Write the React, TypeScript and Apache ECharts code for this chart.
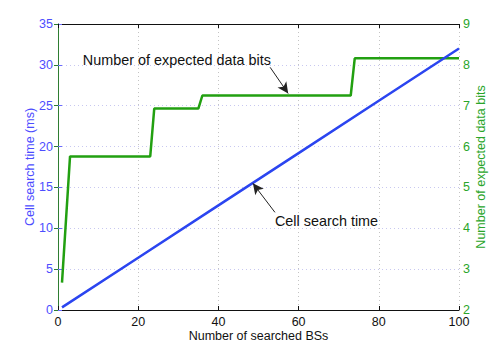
import React, { useEffect, useRef } from "react";
import * as echarts from "echarts";

const xTicks = { min: 0, max: 100, interval: 20 };
const leftTicks = { min: 0, max: 35, interval: 5 };
const rightTicks = { min: 2, max: 9, interval: 1 };

const blueX = [1, 20, 40, 60, 80, 100];
const blueY = [0.32, 6.4, 12.8, 19.2, 25.6, 32];

const greenX = [1, 3, 23, 24, 35, 36, 73, 74, 100];
const greenY = [2.67, 5.76, 5.76, 6.93, 6.93, 7.25, 7.25, 8.16, 8.16];

const bitsArrow = [[52.9, 7.94], [57.4, 7.3]];
const timeArrow = [[54.1, 11.95], [48.6, 15.5]];
const bitsLabel = { text: "Number of expected data bits", at: [6.2, 8.11] };
const timeLabel = { text: "Cell search time", at: [54.1, 10.85] };

const FONT = "'Liberation Sans', Arial, Helvetica, sans-serif";
const BLUE = "#2b45f0";
const BLUE_TXT = "#4d4dff";
const GREEN = "#22a011";
const GREEN_TXT = "#2aa52a";

export default function App() {
  const ref = useRef<HTMLDivElement>(null);
  useEffect(() => {
    if (!ref.current) return;
    const chart = echarts.init(ref.current, undefined, { renderer: "svg" });
    const arrowLine = (pts: number[][]) => ({
      silent: true,
      symbol: ["none", "arrow"],
      symbolSize: [8, 11],
      label: { show: false },
      lineStyle: { color: "#222", width: 1, type: "solid" },
      data: [[{ coord: pts[0] }, { coord: pts[1] }]],
    });
    chart.setOption({
      animation: false,
      textStyle: { fontFamily: FONT },
      grid: { left: 58, right: 32, top: 24, bottom: 33, show: false, outerBoundsMode: "none", containLabel: false },
      xAxis: [
        {
          type: "value",
          ...xTicks,
          name: "Number of searched BSs",
          nameLocation: "middle",
          nameGap: 19,
          nameMoveOverlap: false,
          nameTextStyle: { color: "#111", fontSize: 12.5, fontFamily: FONT },
          axisLine: { show: true, lineStyle: { color: "#111", width: 1 } },
          axisTick: { inside: true, length: 4, lineStyle: { color: "#111" } },
          axisLabel: { color: "#111", fontSize: 12.5, margin: 5, fontFamily: FONT },
          splitLine: { show: true, lineStyle: { color: "#c4c4c4", type: [1, 3], width: 1 } },
        },
        {
          type: "value",
          ...xTicks,
          position: "top",
          axisLine: { show: true, lineStyle: { color: "#111", width: 1 } },
          axisTick: { inside: true, length: 4, lineStyle: { color: "#111" } },
          axisLabel: { show: false },
          splitLine: { show: false },
        },
      ],
      yAxis: [
        {
          type: "value",
          ...leftTicks,
          name: "Cell search time (ms)",
          nameLocation: "middle",
          nameGap: 22,
          nameMoveOverlap: false,
          nameTextStyle: { color: BLUE_TXT, fontSize: 12.5, fontFamily: FONT },
          axisLine: { show: true, lineStyle: { color: "#6b6bff", width: 1 } },
          axisTick: { show: true, inside: true, length: 4, lineStyle: { color: "#6b6bff" } },
          axisLabel: { color: BLUE_TXT, fontSize: 12.5, margin: 5, fontFamily: FONT },
          splitLine: { show: true, lineStyle: { color: "#c8c8f0", type: [1, 3], width: 1 } },
        },
        {
          type: "value",
          ...rightTicks,
          position: "right",
          name: "Number of expected data bits",
          nameLocation: "middle",
          nameGap: 15,
          nameMoveOverlap: false,
          nameTextStyle: { color: GREEN_TXT, fontSize: 12.5, fontFamily: FONT },
          axisLine: { show: true, lineStyle: { color: "#2e7d32", width: 1 } },
          axisTick: { show: true, inside: true, length: 4, lineStyle: { color: "#2e7d32" } },
          axisLabel: { color: GREEN_TXT, fontSize: 12.5, margin: 4, fontFamily: FONT },
          splitLine: { show: false },
        },
      ],
      series: [
        {
          type: "line",
          yAxisIndex: 0,
          data: blueX.map((x, i) => [x, blueY[i]]),
          showSymbol: false,
          lineStyle: { color: BLUE, width: 2.5 },
          markLine: arrowLine(timeArrow),
          z: 3,
        },
        {
          type: "line",
          yAxisIndex: 1,
          data: greenX.map((x, i) => [x, greenY[i]]),
          showSymbol: false,
          lineStyle: { color: GREEN, width: 2.5 },
          markLine: arrowLine(bitsArrow),
          z: 2,
        },
      ],
    });
    const pBits = chart.convertToPixel({ xAxisIndex: 0, yAxisIndex: 1 }, bitsLabel.at) as number[];
    const pTime = chart.convertToPixel({ xAxisIndex: 0, yAxisIndex: 0 }, timeLabel.at) as number[];
    chart.setOption({
      graphic: [
        {
          type: "text",
          x: pBits[0],
          y: pBits[1],
          style: {
            text: bitsLabel.text,
            fill: "#111",
            font: `14.4px ${FONT}`,
            align: "left",
            verticalAlign: "middle",
          },
          z: 10,
        },
        {
          type: "text",
          x: pTime[0],
          y: pTime[1],
          style: {
            text: timeLabel.text,
            fill: "#111",
            font: `14.4px ${FONT}`,
            align: "left",
            verticalAlign: "middle",
          },
          z: 10,
        },
      ],
    });
    return () => chart.dispose();
  }, []);
  return <div ref={ref} style={{ width: 491, height: 343, position: "absolute", left: 0, top: 0 }} />;
}
